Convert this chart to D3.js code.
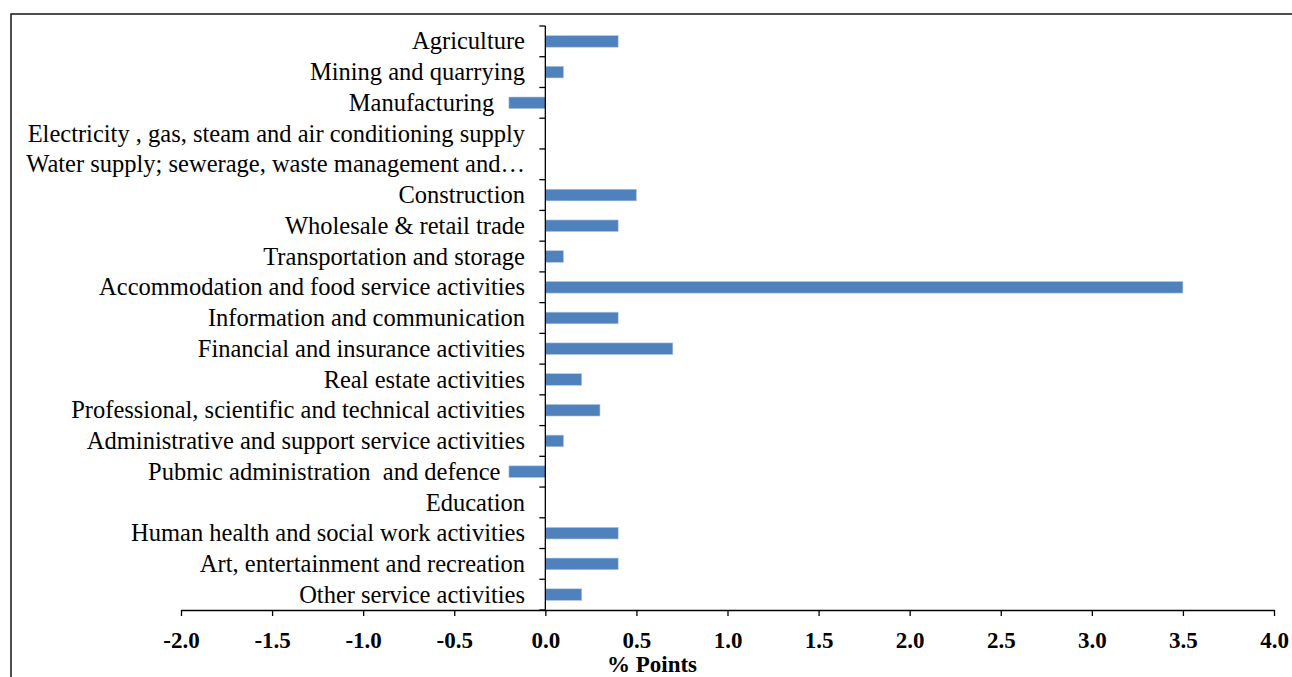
<!DOCTYPE html>
<html lang="en">
<head>
    <meta charset="UTF-8">
    <script src="https://d3js.org/d3.v7.min.js"></script>
    <title>% Points by sector</title>
    <style>
        body { margin: 0; background: #fff; }
        text { font-family: "Liberation Serif", "Times New Roman", serif; }
    </style>
</head>
<body>

<script>
    // sector labels (trailing spaces as in the source sheet)
    const sectors = [
        "Agriculture",
        "Mining and quarrying",
        "Manufacturing     ",
        "Electricity , gas, steam and air conditioning supply",
        "Water supply; sewerage, waste management and\u2026",
        "Construction",
        "Wholesale & retail trade",
        "Transportation and storage",
        "Accommodation and food service activities",
        "Information and communication",
        "Financial and insurance activities",
        "Real estate activities",
        "Professional, scientific and technical activities",
        "Administrative and support service activities",
        "Pubmic administration  and defence    ",
        "Education",
        "Human health and social work activities",
        "Art, entertainment and recreation",
        "Other service activities"
    ];
    const values = [0.4, 0.1, -0.2, 0, 0, 0.5, 0.4, 0.1, 3.5, 0.4, 0.7, 0.2, 0.3, 0.1, -0.2, 0, 0.4, 0.4, 0.2];
    const xTicks = [-2.0, -1.5, -1.0, -0.5, 0.0, 0.5, 1.0, 1.5, 2.0, 2.5, 3.0, 3.5, 4.0];
    const xTitle = "% Points";

    const W = 1292, H = 677;
    const svg = d3.select("body").append("svg")
        .attr("width", W)
        .attr("height", H);

    // chart border
    svg.append("rect")
        .attr("x", 11).attr("y", 14)
        .attr("width", 1300).attr("height", 700)
        .attr("fill", "none")
        .attr("stroke", "#222")
        .attr("stroke-width", 1.6);

    const x = d3.scaleLinear().domain([-2, 4]).range([181, 1274]);
    const y = d3.scaleBand().domain(sectors).range([26, 610]).paddingInner(0.62).paddingOuter(0.31);

    // bars
    svg.selectAll("rect.bar")
        .data(sectors)
        .enter().append("rect")
        .attr("class", "bar")
        .attr("x", (d, i) => x(Math.min(0, values[i])))
        .attr("y", d => y(d))
        .attr("width", (d, i) => Math.abs(x(values[i]) - x(0)))
        .attr("height", y.bandwidth())
        .attr("fill", "#4f81bd")
        .attr("stroke", "#b9cde5")
        .attr("stroke-width", (d, i) => values[i] === 0 ? 0 : 0.6);

    // y axis: line with outward ticks at band boundaries
    const yAx = svg.append("g").attr("class", "y-axis");
    yAx.append("line")
        .attr("x1", x(0)).attr("x2", x(0))
        .attr("y1", 26).attr("y2", 610)
        .attr("stroke", "#000").attr("stroke-width", 1.3);
    const step = y.step();
    yAx.selectAll("line.tick")
        .data(d3.range(sectors.length + 1))
        .enter().append("line")
        .attr("class", "tick")
        .attr("x1", x(0) - 6).attr("x2", x(0))
        .attr("y1", i => 26 + i * step).attr("y2", i => 26 + i * step)
        .attr("stroke", "#000").attr("stroke-width", 1.3);
    yAx.selectAll("text")
        .data(sectors)
        .enter().append("text")
        .attr("x", 525)
        .attr("y", d => y(d) + y.bandwidth() / 2)
        .attr("dy", "0.33em")
        .attr("text-anchor", "end")
        .attr("xml:space", "preserve")
        .style("white-space", "pre")
        .style("font-size", "24.5px")
        .attr("fill", "#000")
        .text(d => d);

    // x axis
    const xAxis = d3.axisBottom(x)
        .tickValues(xTicks)
        .tickFormat(d => d.toFixed(1))
        .tickSize(6)
        .tickSizeOuter(0)
        .tickPadding(16);
    const xg = svg.append("g")
        .attr("transform", "translate(0,610)")
        .call(xAxis);
    xg.select(".domain").attr("stroke", "#000").attr("stroke-width", 1.3);
    xg.selectAll(".tick line").attr("stroke", "#000").attr("stroke-width", 1.3);
    xg.selectAll(".tick text")
        .attr("fill", "#000")
        .style("font-family", "'Liberation Serif', 'Times New Roman', serif")
        .style("font-size", "23px")
        .style("font-weight", "bold");

    // x axis title
    svg.append("text")
        .attr("x", 652)
        .attr("y", 672)
        .attr("text-anchor", "middle")
        .style("font-size", "23px")
        .style("font-weight", "bold")
        .text(xTitle);
</script>

</body>
</html>
